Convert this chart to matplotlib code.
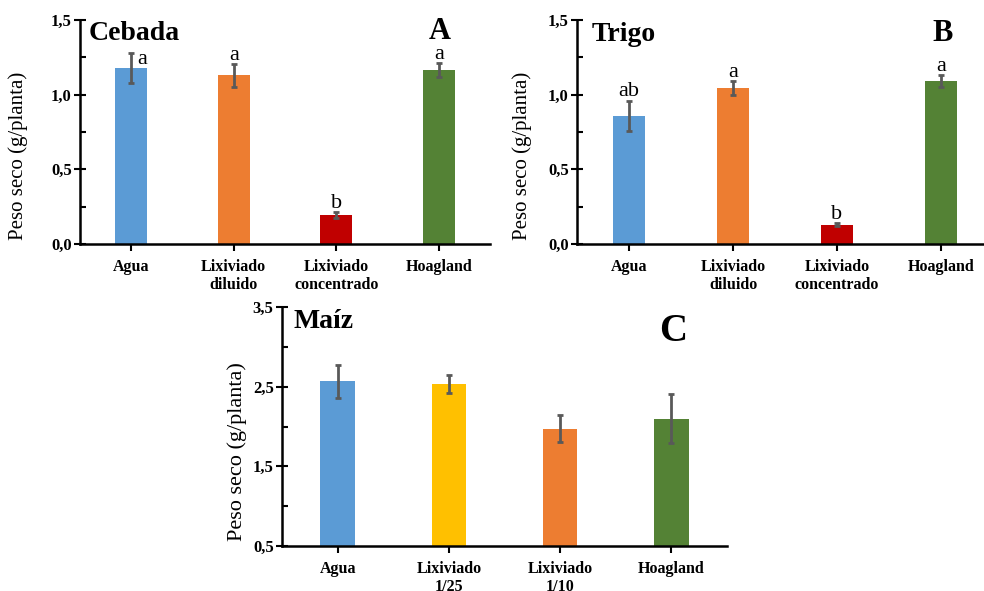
import numpy as np
import matplotlib
matplotlib.use('Agg')
import matplotlib.pyplot as plt
from matplotlib.ticker import FixedLocator, FuncFormatter

plt.rcParams['font.family'] = ['Liberation Serif', 'DejaVu Serif']

# Datos (peso seco, g/planta)
cat_cereal = ['Agua', 'Lixiviado\ndiluido', 'Lixiviado\nconcentrado', 'Hoagland']
cebada_val = [1.18, 1.13, 0.195, 1.165]
cebada_err = [0.10, 0.077, 0.02, 0.045]
cebada_let = ['a', 'a', 'b', 'a']

trigo_val = [0.86, 1.045, 0.13, 1.09]
trigo_err = [0.10, 0.048, 0.01, 0.042]
trigo_let = ['ab', 'a', 'b', 'a']

cat_maiz = ['Agua', 'Lixiviado\n1/25', 'Lixiviado\n1/10', 'Hoagland']
maiz_val = [2.565, 2.535, 1.97, 2.10]
maiz_err = [0.21, 0.117, 0.17, 0.31]

col_cereal = ['#5B9BD5', '#ED7D31', '#C00000', '#548235']
col_maiz = ['#5B9BD5', '#FFC000', '#ED7D31', '#548235']

W, H = 984, 591
fig = plt.figure(figsize=(W / 100, H / 100), dpi=100)


def ejes(left, right, top, bottom):
    return fig.add_axes([left / W, 1 - bottom / H, (right - left) / W, (bottom - top) / H])


def panel(ax, cats, vals, errs, cols, ymin, ymax, step, nombre, tag, tag_size, tag_pos,
          lab_x, lab_size, letras=None, shift=None):
    x = np.arange(len(cats))
    ax.bar(x, [v - ymin for v in vals], bottom=ymin, width=0.31, color=cols, zorder=2)
    ax.errorbar(x, vals, yerr=errs, fmt='none', ecolor='#595959', elinewidth=2,
                capsize=2.5, capthick=2, zorder=3)
    ax.set_xlim(-0.5, 3.5)
    ax.set_ylim(ymin, ymax)
    ax.yaxis.set_major_locator(FixedLocator(np.arange(ymin, ymax + 1e-9, step)))
    ax.yaxis.set_minor_locator(FixedLocator(np.arange(ymin + step / 2, ymax, step)))
    ax.yaxis.set_major_formatter(FuncFormatter(lambda v, p: f'{v:.1f}'.replace('.', ',')))
    ax.set_xticks(x)
    ax.set_xticklabels(cats, fontsize=11.5, fontweight='bold', linespacing=1.15)
    for t in ax.get_yticklabels():
        t.set_fontweight('bold')
        t.set_fontsize(12)
    ax.tick_params(axis='y', which='major', direction='inout', length=8, width=1.5, pad=2)
    ax.tick_params(axis='y', which='minor', direction='in', length=4, width=1.5)
    ax.tick_params(axis='x', direction='out', length=5, width=1.5, pad=6)
    for s in ['top', 'right']:
        ax.spines[s].set_visible(False)
    for s in ['left', 'bottom']:
        ax.spines[s].set_linewidth(1.8)
    ax.set_ylabel('Peso seco (g/planta)', fontsize=lab_size)
    ax.yaxis.set_label_coords(lab_x, 0.395)
    ax.text(nombre[1], nombre[2], nombre[0], transform=ax.transAxes, fontsize=20,
            fontweight='bold', ha='left', va='baseline')
    ax.text(tag_pos[0], tag_pos[1], tag, transform=ax.transAxes, fontsize=tag_size,
            fontweight='bold', ha='center', va='baseline')
    if letras:
        for i, l in enumerate(letras):
            dx, dy = (0, 3) if shift is None or i not in shift else shift[i]
            ax.annotate(l, (x[i], vals[i] + errs[i]), xytext=(dx, dy),
                        textcoords='offset points', ha='center', va='baseline', fontsize=16)


axA = ejes(80, 490, 20, 244)
panel(axA, cat_cereal, cebada_val, cebada_err, col_cereal, 0, 1.5, 0.5,
      ('Cebada', 0.022, 0.911), 'A', 22, (0.878, 0.915), -0.128, 15,
      cebada_let, shift={0: (8, -8)})

axB = ejes(577, 993, 20, 244)
panel(axB, cat_cereal, trigo_val, trigo_err, col_cereal, 0, 1.5, 0.5,
      ('Trigo', 0.036, 0.905), 'B', 22, (0.879, 0.908), -0.108, 15, trigo_let)

axC = ejes(282, 727, 307, 546)
panel(axC, cat_maiz, maiz_val, maiz_err, col_maiz, 0.5, 3.5, 1.0,
      ('Maíz', 0.025, 0.912), 'C', 28, (0.879, 0.857), -0.079, 16)

fig.savefig('out.png', dpi=100)
